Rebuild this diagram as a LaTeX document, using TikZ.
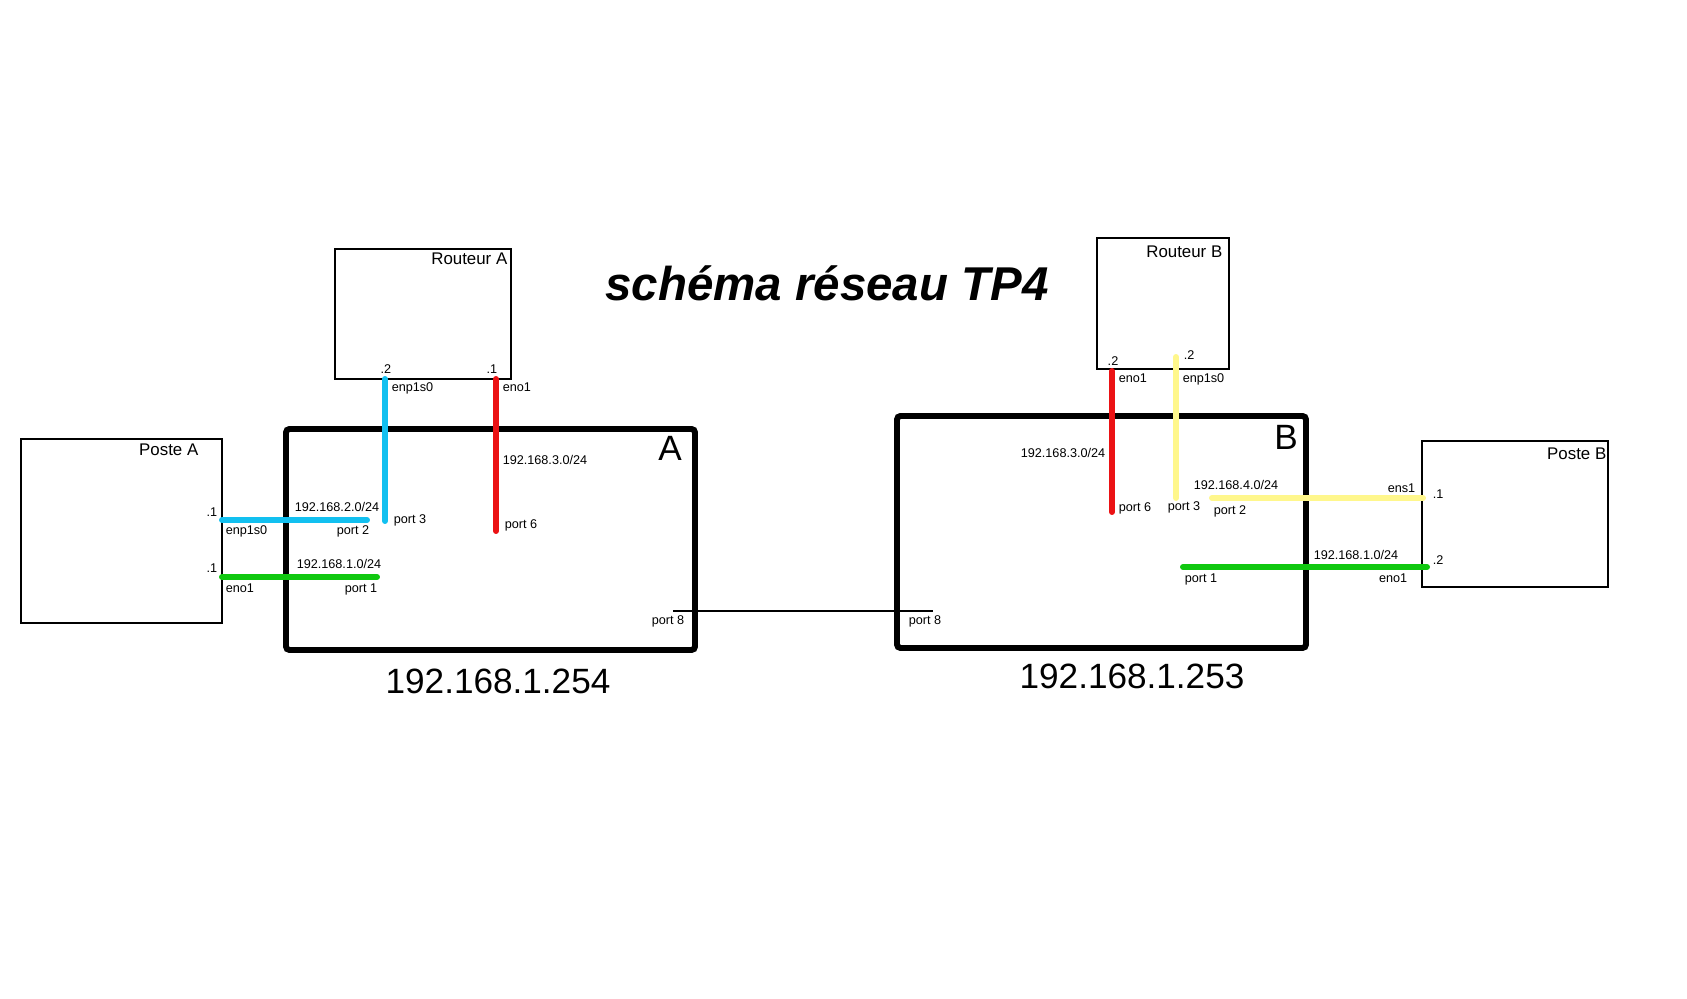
\documentclass[tikz,border=0pt]{standalone}
\usepackage{fontspec}
\setmainfont{Liberation Sans}
\usepackage{xcolor}
\usetikzlibrary{positioning}

\definecolor{lanblue}{RGB}{18,192,240}
\definecolor{lanred}{RGB}{235,18,20}
\definecolor{langreen}{RGB}{16,200,16}
\definecolor{lanyellow}{RGB}{255,247,140}

\tikzset{
  host/.style={draw, line width=0.45pt, inner sep=0pt, outer sep=0pt, anchor=north west},
  switchbox/.style={draw, line width=1.7pt, rounded corners=1pt, inner sep=0pt, outer sep=0pt, anchor=north west},
  cable/.style={line width=1.7pt, line cap=round},
  tag/.style={font=\fontsize{3.6}{4}\selectfont, inner sep=0.3pt},
  boxname/.style={font=\fontsize{4.8}{5.5}\selectfont, inner sep=0pt, anchor=north east},
  ipname/.style={font=\fontsize{10}{12}\selectfont, inner sep=0pt}
}

\begin{document}
\begin{tikzpicture}[x=0.1mm, y=-0.1mm]
  \useasboundingbox (0,0) rectangle (1687,999);
  % title
  \node[font=\fontsize{13.5}{16}\selectfont\bfseries\itshape] (title) at (827,283) {schéma réseau TP4};
  % machines
  \node[host, minimum width=20.1mm, minimum height=18.4mm] (posteA) at (21,439) {};
  \node[host, minimum width=17.6mm, minimum height=13mm] (routeurA) at (335,249) {};
  \node[host, minimum width=13.2mm, minimum height=13.1mm] (routeurB) at (1097,238) {};
  \node[host, minimum width=18.6mm, minimum height=14.6mm] (posteB) at (1422,441) {};
  \node[boxname] (nposteA) at (199,443) {Poste A};
  \node[boxname] (nrouteurA) at (508,252) {Routeur A};
  \node[boxname] (nrouteurB) at (1223,245) {Routeur B};
  \node[boxname] (nposteB) at (1607,447) {Poste B};
  % switches
  \node[switchbox, minimum width=40.9mm, minimum height=22.1mm] (switchA) at (286,429) {};
  \node[switchbox, minimum width=40.9mm, minimum height=23.2mm] (switchB) at (897,416) {};
  \node[font=\fontsize{10}{12}\selectfont] (nswitchA) at (670,448) {A};
  \node[font=\fontsize{10}{12}\selectfont] (nswitchB) at (1286,437) {B};
  \node[ipname] (ipA) at (498,681) {192.168.1.254};
  \node[ipname] (ipB) at (1132,676) {192.168.1.253};
  % port coordinates
  \coordinate (pa-enp) at (222,520);
  \coordinate (pa-eno) at (222,577);
  \coordinate (swa-p2) at (367,520);
  \coordinate (swa-p1) at (377,577);
  \coordinate (ra-enp) at (385,379);
  \coordinate (ra-eno) at (496,379);
  \coordinate (swa-p3) at (385,521);
  \coordinate (swa-p6) at (496,531);
  \coordinate (swa-p8) at (673,611);
  \coordinate (swb-p8) at (933,611);
  \coordinate (rb-eno) at (1112,371);
  \coordinate (rb-enp) at (1176,357);
  \coordinate (swb-p6) at (1112,512);
  \coordinate (swb-p3) at (1176,498);
  \coordinate (swb-p2) at (1212,498);
  \coordinate (swb-p1) at (1183,567);
  \coordinate (pb-ens) at (1423,498);
  \coordinate (pb-eno) at (1427,567);
  % cables
  \draw[cable, lanblue] (pa-enp) -- (swa-p2);
  \draw[cable, langreen] (pa-eno) -- (swa-p1);
  \draw[cable, lanblue] (ra-enp) -- (swa-p3);
  \draw[cable, lanred] (ra-eno) -- (swa-p6);
  \draw[line width=0.35pt] (swa-p8) -- (swb-p8);
  \draw[cable, lanred] (rb-eno) -- (swb-p6);
  \draw[cable, lanyellow] (rb-enp) -- (swb-p3);
  \draw[cable, lanyellow] (swb-p2) -- (pb-ens);
  \draw[cable, langreen] (swb-p1) -- (pb-eno);
  % Poste A / switch A labels
  \node[tag, anchor=south east] (t1) at (219,518) {.1};
  \node[tag, anchor=north west] (t2) at (224,524) {enp1s0};
  \node[tag, anchor=south east] (t3) at (219,574) {.1};
  \node[tag, anchor=north west] (t4) at (224,582) {eno1};
  \node[tag, anchor=south west] (t5) at (293,513) {192.168.2.0/24};
  \node[tag, anchor=north east] (t6) at (371,524) {port 2};
  \node[tag, anchor=south west] (t7) at (295,570) {192.168.1.0/24};
  \node[tag, anchor=north east] (t8) at (379,582) {port 1};
  % Routeur A labels
  \node[tag, anchor=south] (t9) at (386,375) {.2};
  \node[tag, anchor=south] (t10) at (492,375) {.1};
  \node[tag, anchor=north west] (t11) at (390,381) {enp1s0};
  \node[tag, anchor=north west] (t12) at (501,381) {eno1};
  \node[tag, anchor=west] (t13) at (392,520) {port 3};
  \node[tag, anchor=west] (t14) at (501,460) {192.168.3.0/24};
  \node[tag, anchor=west] (t15) at (503,525) {port 6};
  \node[tag, anchor=north east] (t16) at (686,614) {port 8};
  \node[tag, anchor=north west] (t17) at (907,614) {port 8};
  % Routeur B / switch B labels
  \node[tag, anchor=south] (t18) at (1113,367) {.2};
  \node[tag, anchor=north west] (t19) at (1117,372) {eno1};
  \node[tag, anchor=south west] (t20) at (1182,361) {.2};
  \node[tag, anchor=north west] (t21) at (1181,372) {enp1s0};
  \node[tag, anchor=east] (t22) at (1107,453) {192.168.3.0/24};
  \node[tag, anchor=west] (t23) at (1117,508) {port 6};
  \node[tag, anchor=west] (t24) at (1166,507) {port 3};
  \node[tag, anchor=south west] (t25) at (1192,491) {192.168.4.0/24};
  \node[tag, anchor=north west] (t26) at (1212,504) {port 2};
  \node[tag, anchor=north west] (t27) at (1183,572) {port 1};
  % Poste B labels
  \node[tag, anchor=south east] (t28) at (1417,494) {ens1};
  \node[tag, anchor=west] (t29) at (1431,494) {.1};
  \node[tag, anchor=south west] (t30) at (1312,561) {192.168.1.0/24};
  \node[tag, anchor=west] (t31) at (1431,560) {.2};
  \node[tag, anchor=north east] (t32) at (1409,572) {eno1};
\end{tikzpicture}
\end{document}
